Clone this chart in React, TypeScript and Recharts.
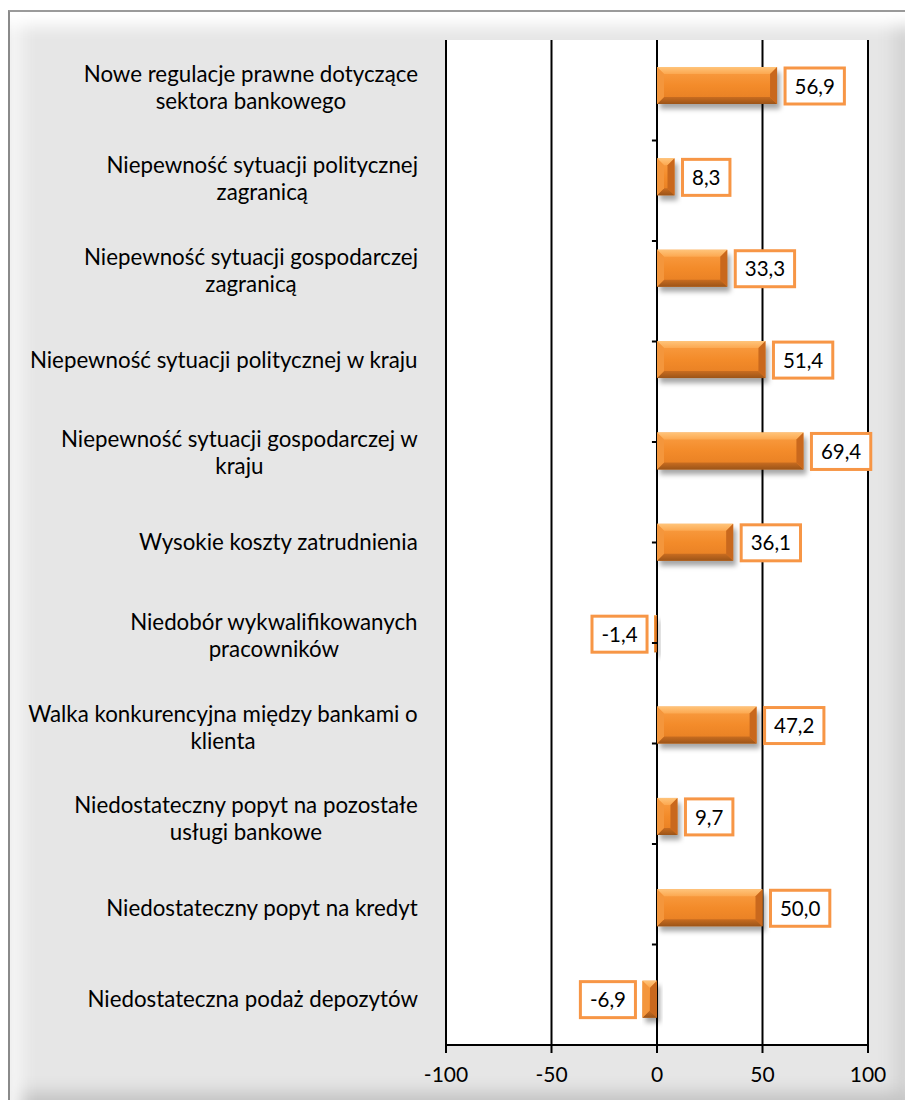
import React from 'react';
import { BarChart, Bar, XAxis, YAxis, CartesianGrid, ReferenceLine, LabelList } from 'recharts';

const categories = [
  'Nowe regulacje prawne dotyczące\nsektora bankowego',
  'Niepewność sytuacji politycznej\nzagranicą',
  'Niepewność sytuacji gospodarczej\nzagranicą',
  'Niepewność sytuacji politycznej w kraju',
  'Niepewność sytuacji gospodarczej w\nkraju',
  'Wysokie koszty zatrudnienia',
  'Niedobór wykwalifikowanych\npracowników',
  'Walka konkurencyjna między bankami o\nklienta',
  'Niedostateczny popyt na pozostałe\nusługi bankowe',
  'Niedostateczny popyt na kredyt',
  'Niedostateczna podaż depozytów',
];
const values = [56.9, 8.3, 33.3, 51.4, 69.4, 36.1, -1.4, 47.2, 9.7, 50.0, -6.9];
const xTicks = [-100, -50, 0, 50, 100];
const boundaries = [1, 2, 3, 4, 5, 6, 7, 8, 9, 10];

const data = categories.map((name, i) => ({ name, value: values[i] }));

const FONT = 'Lato, "Open Sans", sans-serif';
const CAT_FS = 22.3;
const VAL_FS = 20.5;

let ctx: CanvasRenderingContext2D | null = null;
function measure(t: string, size: number): number {
  if (!ctx) ctx = document.createElement('canvas').getContext('2d');
  if (!ctx) return t.length * size * 0.5;
  ctx.font = `${size}px Lato`;
  return ctx.measureText(t).width;
}

const CatTick = (props: any) => {
  const { x, y, payload } = props;
  const lines = String(payload.value).split('\n');
  const maxW = Math.max(...lines.map((l) => measure(l, CAT_FS)));
  const cx = x - maxW / 2;
  const lh = 27;
  const startY = y - ((lines.length - 1) * lh) / 2 + (lines.length > 1 ? 2 : 0);
  return (
    <text textAnchor="middle" fontFamily={FONT} fontSize={CAT_FS} fill="#000">
      {lines.map((l, i) => (
        <tspan key={i} x={cx} y={startY + i * lh} dy="0.35em">
          {l}
        </tspan>
      ))}
    </text>
  );
};

const BevelBar = (props: any) => {
  const { x, y, width, height } = props;
  const x0 = Math.min(x, x + width);
  const w = Math.abs(width);
  const y0 = Math.min(y, y + height);
  const h = Math.abs(height);
  if (!w || !h) return null;
  const b = Math.min(7, w / 2, h / 2);
  const x1 = x0 + w;
  const y1 = y0 + h;
  return (
    <g>
      <rect x={x0 + 3} y={y0 + 5} width={w} height={h} fill="rgba(0,0,0,0.35)" filter="url(#barShadowBlur)" />
      <rect x={x0} y={y0} width={w} height={h} fill="url(#barFace)" />
      <polygon points={`${x0},${y0} ${x1},${y0} ${x1 - b},${y0 + b} ${x0 + b},${y0 + b}`} fill="url(#bevTop)" />
      <polygon points={`${x0},${y1} ${x1},${y1} ${x1 - b},${y1 - b} ${x0 + b},${y1 - b}`} fill="url(#bevBottom)" />
      <polygon points={`${x0},${y0} ${x0 + b},${y0 + b} ${x0 + b},${y1 - b} ${x0},${y1}`} fill="#f4963c" />
      <polygon points={`${x1},${y0} ${x1 - b},${y0 + b} ${x1 - b},${y1 - b} ${x1},${y1}`} fill="#c9681d" />
    </g>
  );
};

const ValueLabel = (props: any) => {
  const vb = props.viewBox || props;
  const { x, y, width, height } = vb;
  const value = Number(props.value);
  const txt = value.toFixed(1).replace('.', ',');
  const tw = measure(txt, VAL_FS);
  const bw = tw + 19;
  const y0 = Math.min(y, y + height);
  const bh = Math.abs(height);
  const end = value >= 0 ? Math.max(x, x + width) : Math.min(x, x + width);
  const bx = value >= 0 ? end + 8 : end - 7 - bw;
  return (
    <g>
      <rect x={bx} y={y0 + 1} width={bw} height={bh - 1} fill="#fff" stroke="#f79646" strokeWidth={3} />
      <text
        x={bx + bw / 2}
        y={y0 + bh / 2 + 1}
        dy="0.35em"
        textAnchor="middle"
        fontFamily={FONT}
        fontSize={VAL_FS}
        fill="#000"
      >
        {txt}
      </text>
    </g>
  );
};

export default function App() {
  return (
    <div>
      <svg width={0} height={0} style={{ position: 'absolute' }}>
        <defs>
          <linearGradient id="barFace" x1="0" y1="0" x2="0" y2="1">
            <stop offset="0%" stopColor="#fa9f45" />
            <stop offset="50%" stopColor="#f38b2a" />
            <stop offset="100%" stopColor="#e57d22" />
          </linearGradient>
          <linearGradient id="bevTop" x1="0" y1="0" x2="0" y2="1">
            <stop offset="0%" stopColor="#ffc47a" />
            <stop offset="100%" stopColor="#fca850" />
          </linearGradient>
          <linearGradient id="bevBottom" x1="0" y1="0" x2="0" y2="1">
            <stop offset="0%" stopColor="#c86c20" />
            <stop offset="100%" stopColor="#9c5418" />
          </linearGradient>
          <filter id="barShadowBlur" x="-20%" y="-50%" width="140%" height="200%">
            <feGaussianBlur stdDeviation="2.5" />
          </filter>
        </defs>
      </svg>
      <div
        style={{
          position: 'fixed',
          left: 8,
          top: 10,
          width: 897,
          height: 1096,
          boxSizing: 'border-box',
          background: '#e6e6e6',
          borderTop: '2px solid #9a9a9a',
          borderLeft: '2px solid #8a8a8a',
          boxShadow:
            'inset 0 26px 16px -12px #ffffff, inset 26px 0 16px -14px #f6f6f6, inset 3px 0 3px -1px #a0a0a0, inset 0 -26px 16px -12px #c4c4c4, inset -24px 0 16px -12px #d4d4d4',
        }}
      >
        <div style={{ position: 'absolute', left: -2, top: -2 }}>
          <BarChart
            width={897}
            height={1080}
            data={data}
            layout="vertical"
            margin={{ top: 30, right: 37, bottom: 0, left: 0 }}
          >
            <CartesianGrid horizontal={false} vertical stroke="#000" strokeWidth={2} fill="#fff" />
            <XAxis
              type="number"
              domain={[-100, 100]}
              ticks={xTicks}
              interval={0}
              height={45}
              stroke="#000"
              axisLine={{ stroke: '#000', strokeWidth: 2 }}
              tickLine={{ stroke: '#000', strokeWidth: 2 }}
              tickSize={8}
              tickMargin={14}
              tick={{ fill: '#000', fontSize: 21, fontFamily: FONT }}
            />
            <XAxis
              xAxisId="top"
              orientation="top"
              type="number"
              domain={[-100, 100]}
              ticks={xTicks}
              height={0}
              tick={false}
              tickLine={false}
              axisLine={{ stroke: '#000', strokeWidth: 2 }}
            />
            <YAxis
              type="category"
              dataKey="name"
              width={438}
              axisLine={false}
              tickLine={false}
              tickSize={0}
              tickMargin={28}
              interval={0}
              tick={<CatTick />}
            />
            <YAxis yAxisId="n" type="number" domain={[0, 11]} hide />
            {boundaries.map((k) => (
              <ReferenceLine
                key={k}
                yAxisId="n"
                segment={[
                  { x: -2.4, y: k },
                  { x: 0, y: k },
                ]}
                stroke="#000"
                strokeWidth={2}
              />
            ))}
            <Bar dataKey="value" barSize={37} isAnimationActive={false} shape={<BevelBar />}>
              <LabelList dataKey="value" content={<ValueLabel />} />
            </Bar>
          </BarChart>
        </div>
      </div>
    </div>
  );
}
